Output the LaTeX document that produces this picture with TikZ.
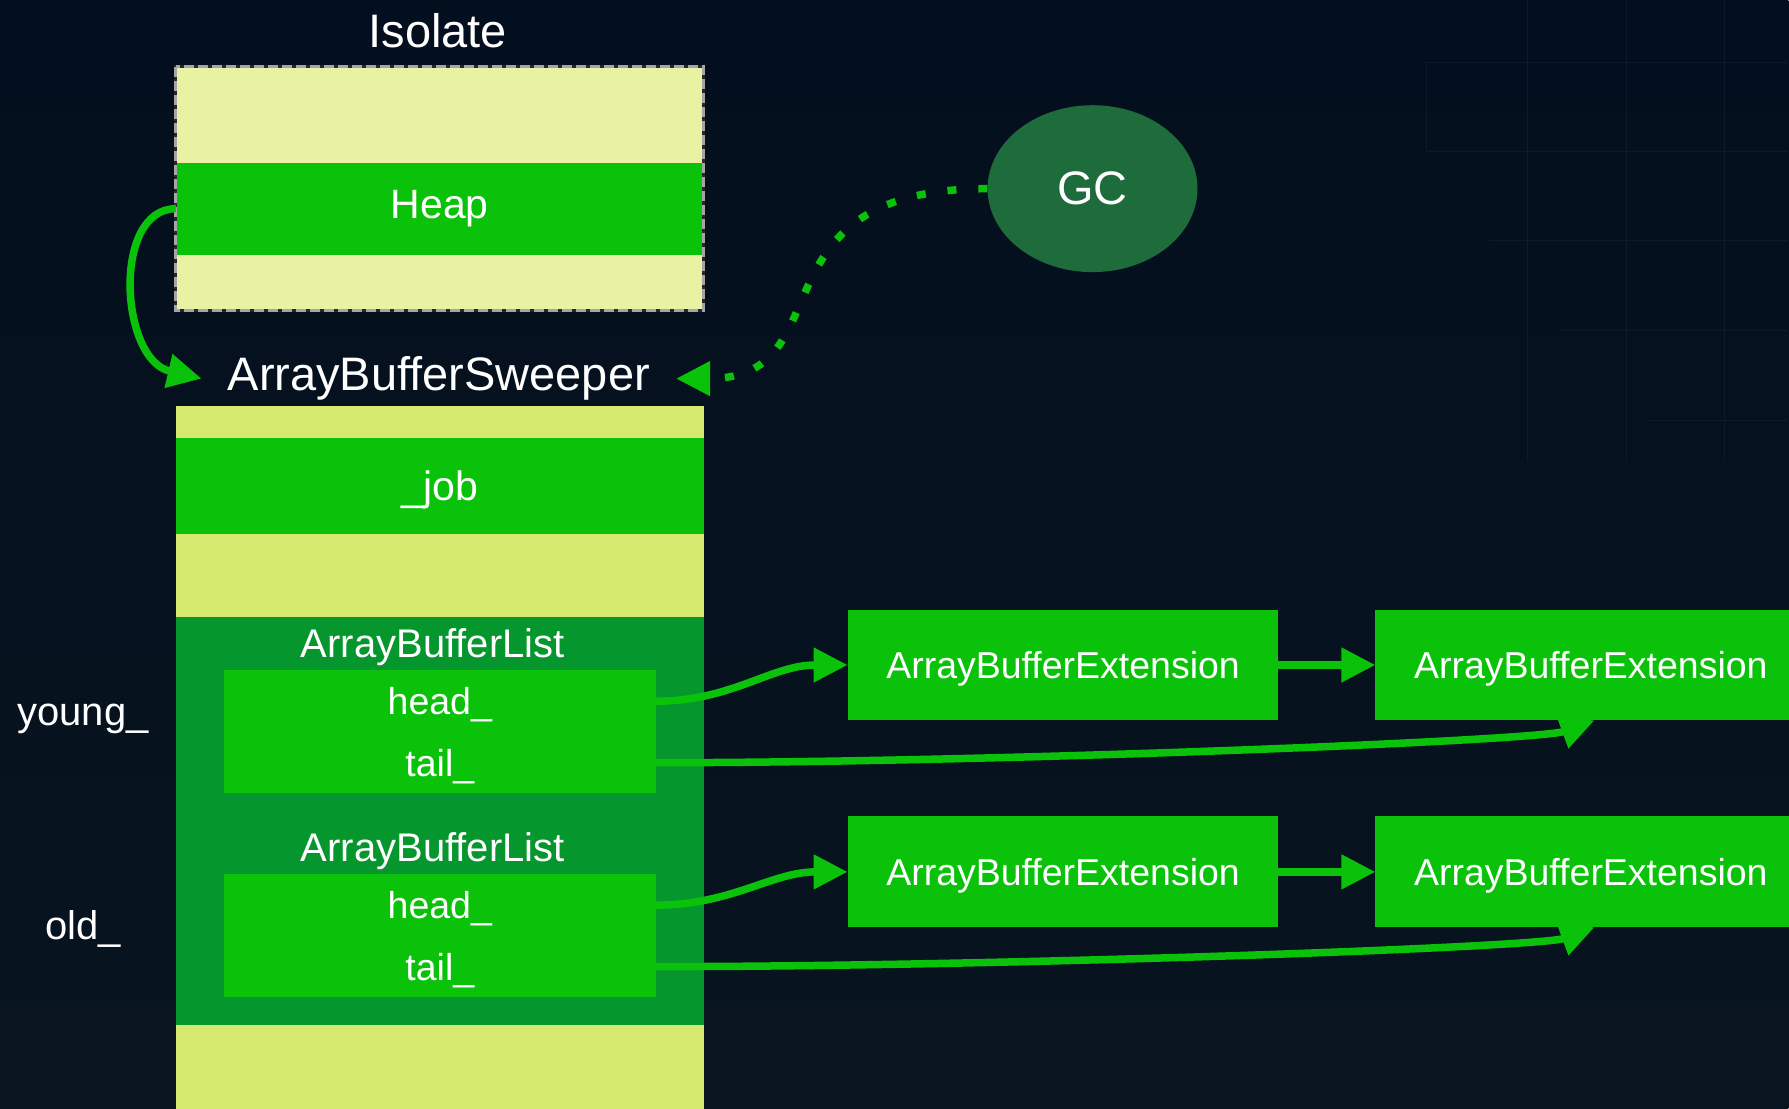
\documentclass[tikz,border=0pt]{standalone}
\usepackage{fontspec}
\setmainfont{Liberation Sans}
\usetikzlibrary{arrows.meta, positioning, shapes.geometric, backgrounds}
\definecolor{bgtop}{RGB}{3,15,30}
\definecolor{bgbot}{RGB}{9,20,32}
\definecolor{gridline}{RGB}{13,26,40}
\definecolor{isoyellow}{RGB}{233,242,162}
\definecolor{sweepyellow}{RGB}{213,233,110}
\definecolor{leafgreen}{RGB}{10,194,10}
\definecolor{listgreen}{RGB}{5,150,46}
\definecolor{gcgreen}{RGB}{30,107,59}
\definecolor{borderdash}{RGB}{165,165,165}
\pgfdeclarelayer{edges}
\pgfdeclarelayer{front}
\pgfsetlayers{background,main,edges,front}
\newcommand{\fsz}[1]{\fontsize{#1}{#1}\selectfont}

\begin{document}
\begin{tikzpicture}[x=1pt,y=1pt]
	\tikzset{
		band/.style={fill=#1, draw=none, minimum width=528pt, inner sep=0pt, outer sep=0pt, anchor=north west, text=white},
		lbl/.style={text=white, inner sep=0pt, font=\fsz{#1}},
		fieldbox/.style={fill=leafgreen, minimum width=432pt, minimum height=61.5pt, inner sep=0pt, outer sep=0pt, text depth=0pt, anchor=north west, text=white, font=\fsz{37.5}},
		extbox/.style={fill=leafgreen, minimum width=431pt, minimum height=111pt, inner sep=0pt, outer sep=0pt, text depth=0pt, anchor=north west, text=white, font=\fsz{37.5}},
		link/.style={draw=leafgreen, line width=7.5pt, -{Triangle[length=34pt,width=33pt]}}
	}
	
	% background and faint grid
	\begin{pgfonlayer}{background}
		\shade[top color=bgtop, bottom color=bgbot] (0,0) rectangle (1789,-1108);
		\foreach \gx in {1528,1627,1725}
			\draw[gridline, line width=1.5pt] (\gx,0) -- (\gx,-460);
		\draw[gridline, line width=1.5pt] (1427,-62) -- (1427,-151);
		\foreach \gy/\gs in {62/1427,151/1427,240/1490,330/1560,420/1650}
			\draw[gridline, line width=1.5pt] (\gs,-\gy) -- (1789,-\gy);
	\end{pgfonlayer}
	\useasboundingbox (0,0) rectangle (1789,-1108);
	
	% Isolate
	\node[lbl=47] (isolbl) at (438,-30) {Isolate};
	\node[band=isoyellow, minimum height=244pt] (iso) at (176,-66) {};
	\node[band=leafgreen, minimum height=92pt, font=\fsz{41}] (heap) at (176,-162) {Heap};
	\draw[black!85, line width=3pt] (iso.north west) rectangle (iso.south east);
	\draw[borderdash, line width=3pt, dash pattern=on 10pt off 4pt] (iso.north west) rectangle (iso.south east);
	
	% ArrayBufferSweeper
	\node[lbl=47, inner xsep=26pt] (sweeplbl) at (439,-378) {ArrayBufferSweeper};
	\node[band=sweepyellow, minimum height=720pt] (sweeper) at (176,-405) {};
	\node[band=leafgreen, minimum height=96pt, text depth=0pt, font=\fsz{41}] (job) at (176,-437) {\_job};
	\node[band=listgreen, minimum height=409pt] (lists) at (176,-616) {};
	
	\node[lbl=40] (younglist) at (433,-647) {ArrayBufferList};
	\node[fieldbox] (head1) at (224,-670) {head\_};
	\node[fieldbox, below=0pt of head1] (tail1) {tail\_};
	\node[lbl=40] (oldlist) at (433,-851) {ArrayBufferList};
	\node[fieldbox] (head2) at (224,-874) {head\_};
	\node[fieldbox, below=0pt of head2] (tail2) {tail\_};
	\node[lbl=40] (young) at (83,-718) {young\_};
	\node[lbl=40] (old) at (83,-929) {old\_};
	
	% extensions, above the links
	\begin{pgfonlayer}{front}
		\node[extbox] (ext1) at (848,-609) {ArrayBufferExtension};
		\node[extbox, right=97pt of ext1] (ext2) {ArrayBufferExtension};
		\node[extbox] (ext3) at (848,-816) {ArrayBufferExtension};
		\node[extbox, right=97pt of ext3] (ext4) {ArrayBufferExtension};
	\end{pgfonlayer}
	
	\node[ellipse, fill=gcgreen, minimum width=210pt, minimum height=167pt, inner sep=0pt, text=white, font=\fsz{47}] (gc) at (1093,-188) {GC};
	
	\begin{pgfonlayer}{edges}
		\draw[link] (heap.west) .. controls +(-64,0) and +(-82,19) .. (sweeplbl.west);
		\draw[link, dash pattern=on 9pt off 22pt] (gc.west) to[out=180, in=0, out looseness=1.7, in looseness=1.2] (sweeplbl.east);
		\draw[link] (head1.east) to[out=0, in=180] (ext1.west);
		\draw[link] (ext1) -- (ext2);
		\draw[link] (tail1.east) .. controls +(344,0) and +(-55,-20) .. ([xshift=219pt]ext2.south west);
		\draw[link] (head2.east) to[out=0, in=180] (ext3.west);
		\draw[link] (ext3) -- (ext4);
		\draw[link] (tail2.east) .. controls +(344,0) and +(-55,-20) .. ([xshift=219pt]ext4.south west);
	\end{pgfonlayer}
\end{tikzpicture}
\end{document}
